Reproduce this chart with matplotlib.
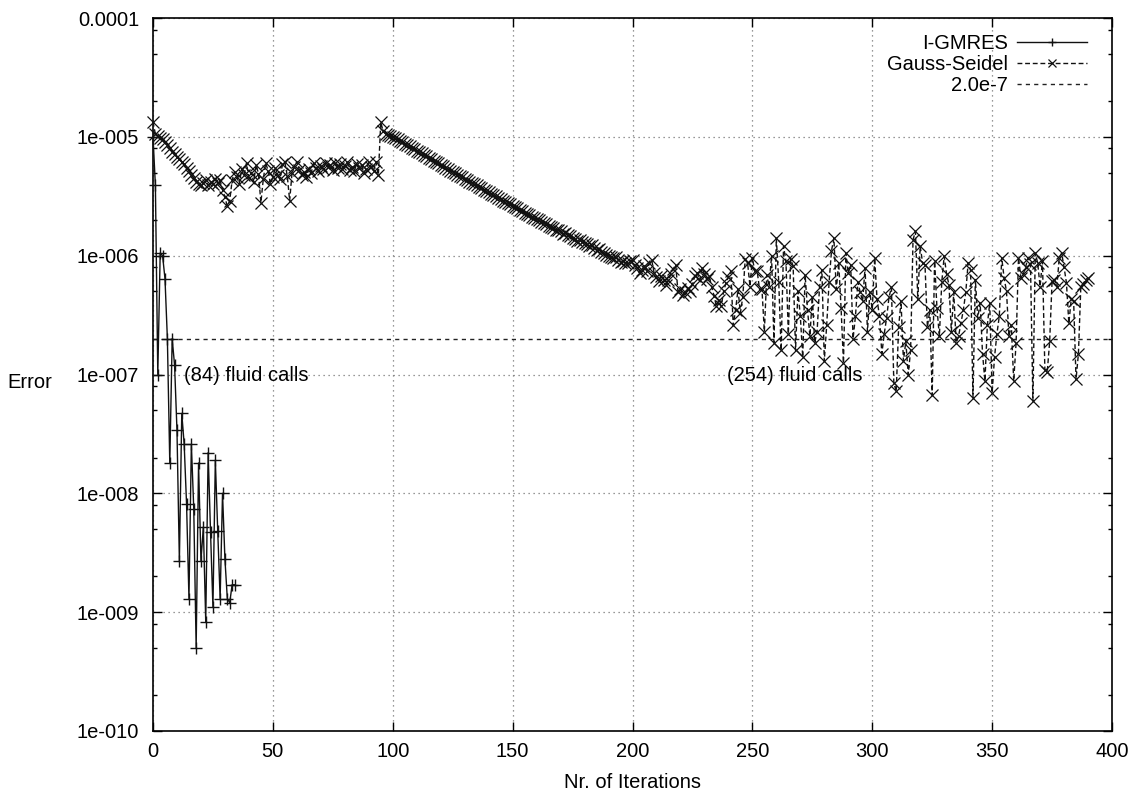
import numpy as np
import matplotlib
matplotlib.use('Agg')
import matplotlib.pyplot as plt
from matplotlib.ticker import LogLocator, NullFormatter, FuncFormatter, MultipleLocator

plt.rcParams['font.family'] = ['Liberation Sans', 'DejaVu Sans']
plt.rcParams['font.size'] = 14.5

# I-GMRES error per iteration
igmres_err = [1.0e-5, 3.9e-6, 1.0e-7, 1.05e-6, 1.0e-6, 6.4e-7, 2.0e-7, 1.8e-8, 2.0e-7, 1.2e-7,
              3.4e-8, 2.7e-9, 4.7e-8, 2.6e-8, 8.1e-9, 1.3e-9, 2.6e-8, 7.4e-9, 5.0e-10, 1.8e-8,
              2.7e-9, 5.2e-9, 8.3e-10, 2.2e-8, 4.7e-9, 1.1e-9, 1.9e-8, 4.8e-9, 1.3e-9, 1.0e-8,
              2.8e-9, 1.3e-9, 1.2e-9, 1.7e-9, 1.7e-9]

# Gauss-Seidel error per iteration, in units of 1e-6
gs_err_e6 = [
    13.4, 10.5, 10.2, 9.8, 9.5, 9.0, 8.5, 8.0, 7.5, 7.2,
    6.8, 6.5, 6.2, 5.9, 5.5, 5.2, 4.8, 4.5, 4.2, 4.0,
    3.9, 4.1, 4.3, 3.9, 4.2, 4.0, 4.4, 4.1, 4.3, 3.6,
    3.1, 2.6, 2.9, 4.3, 5.1, 4.6, 4.0, 5.4, 4.8, 6.0,
    4.5, 5.0, 4.2, 5.8, 4.9, 2.8, 4.4, 6.0, 5.2, 4.0,
    4.6, 5.5, 4.8, 4.4, 5.9, 6.1, 4.7, 2.9, 5.0, 5.6,
    6.2, 5.3, 4.8, 5.1, 4.6, 5.4, 5.0, 6.0, 5.5, 5.2,
    5.7, 5.4, 6.0, 5.6, 5.8, 5.3, 6.0, 5.5, 5.9, 5.4,
    5.7, 6.1, 5.3, 5.6, 5.2, 5.9, 5.5, 5.8, 5.0, 5.4,
    6.1, 5.6, 5.2, 6.2, 4.8, 13.3, 11.1, 10.6, 10.4, 10.2,
    9.9, 9.7, 9.5, 9.2, 9.0, 8.7, 8.5, 8.3, 8.0, 7.9,
    7.6, 7.4, 7.3, 7.0, 6.9, 6.7, 6.5, 6.3, 6.2, 6.0,
    5.8, 5.7, 5.5, 5.4, 5.2, 5.1, 5.0, 4.8, 4.7, 4.6,
    4.4, 4.35, 4.2, 4.1, 4.0, 3.9, 3.8, 3.7, 3.6, 3.5,
    3.45, 3.3, 3.25, 3.15, 3.05, 3.0, 2.9, 2.85, 2.75, 2.7,
    2.6, 2.55, 2.5, 2.42, 2.36, 2.3, 2.25, 2.2, 2.12, 2.08,
    2.02, 1.98, 1.92, 1.88, 1.84, 1.78, 1.75, 1.72, 1.66, 1.64,
    1.6, 1.52, 1.55, 1.48, 1.45, 1.42, 1.38, 1.34, 1.36, 1.30,
    1.27, 1.25, 1.2, 1.22, 1.15, 1.12, 1.14, 1.08, 1.05, 1.02,
    1.0, 0.98, 0.95, 0.97, 0.92, 0.89, 0.91, 0.87, 0.86, 0.90,
    0.92, 0.84, 0.78, 0.71, 0.76, 0.82, 0.74, 0.86, 0.92, 0.72,
    0.66, 0.61, 0.68, 0.63, 0.57, 0.62, 0.70, 0.77, 0.84, 0.49,
    0.52, 0.47, 0.49, 0.53, 0.50, 0.58, 0.67, 0.72, 0.62, 0.79,
    0.70, 0.64, 0.67, 0.55, 0.46, 0.375, 0.42, 0.375, 0.50, 0.59,
    0.66, 0.74, 0.26, 0.35, 0.52, 0.33, 0.45, 0.93, 0.87, 0.55,
    0.96, 0.74, 0.74, 0.52, 0.52, 0.23, 0.69, 0.55, 1.0, 0.185,
    1.4, 0.6, 0.16, 1.2, 0.9, 0.22, 0.93, 0.82, 0.16, 0.5,
    0.31, 0.14, 0.69, 0.35, 0.21, 0.45, 0.185, 0.23, 0.54, 0.76,
    0.13, 0.26, 0.6, 1.1, 1.4, 0.52, 0.87, 0.36, 0.125, 1.05,
    0.71, 0.84, 0.2, 0.31, 0.6, 0.49, 0.415, 0.79, 0.23, 0.49,
    0.35, 0.96, 0.43, 0.31, 0.15, 0.22, 0.30, 0.45, 0.54, 0.085,
    0.072, 0.25, 0.415, 0.13, 0.19, 0.10, 0.16, 1.36, 1.6, 0.43,
    1.2, 0.87, 0.84, 0.25, 0.35, 0.067, 0.9, 0.36, 0.21, 0.6,
    0.99, 0.7, 0.57, 0.23, 0.49, 0.185, 0.21, 0.27, 0.35, 0.49,
    0.87, 0.76, 0.064, 0.63, 0.30, 0.40, 0.15, 0.088, 0.26, 0.40,
    0.07, 0.14, 0.22, 0.31, 0.96, 0.65, 0.50, 0.21, 0.26, 0.088,
    0.185, 0.96, 0.65, 0.70, 0.81, 0.96, 0.85, 0.06, 1.05, 0.87,
    0.55, 0.90, 0.11, 0.105, 0.19, 0.61, 0.63, 0.55, 0.96, 1.05,
    0.80, 0.59, 0.27, 0.43, 0.415, 0.091, 0.15, 0.55, 0.58, 0.63,
    0.65,
]

threshold = 2.0e-7
labels = ['I-GMRES', 'Gauss-Seidel', '2.0e-7']
notes = ['(84) fluid calls', '(254) fluid calls']
note_x = [13.0, 239.5]
note_y = [8.8e-8, 8.8e-8]

igmres_it = np.arange(len(igmres_err))
gs_it = np.arange(len(gs_err_e6))
gs_err = np.array(gs_err_e6) * 1e-6

fig = plt.figure(figsize=(11.41, 7.98), dpi=100)
ax = fig.add_axes([153 / 1141, 1 - 731 / 798, (1112 - 153) / 1141, (731 - 18) / 798])

ax.plot(igmres_it, igmres_err, color='#111111', lw=1.0, marker='+', ms=8.5, mew=1.0,
        label=labels[0], clip_on=False, zorder=3)
ax.plot(gs_it, gs_err, color='#111111', lw=1.0, ls=(0, (3.5, 2)), marker='x', ms=8, mew=0.9,
        label=labels[1], clip_on=False, zorder=3)
ax.axhline(threshold, color='#222222', lw=1.0, ls=(0, (3, 3)), label=labels[2], zorder=2)

ax.set_yscale('log')
ax.set_xlim(0, 400)
ax.set_ylim(1e-10, 1e-4)

ax.xaxis.set_major_locator(MultipleLocator(50))
ax.yaxis.set_major_locator(LogLocator(base=10, numticks=20))
ax.yaxis.set_minor_locator(LogLocator(base=10, subs=[2, 5, 8], numticks=20))
ax.yaxis.set_minor_formatter(NullFormatter())


def fmt(v, pos):
    e = int(round(np.log10(v)))
    if e == -4:
        return '0.0001'
    return '1e-%03d' % (-e)


ax.yaxis.set_major_formatter(FuncFormatter(fmt))

ax.tick_params(which='both', direction='in', top=True, right=True, width=1.0)
ax.tick_params(which='major', length=6.5)
ax.tick_params(which='minor', length=3)
ax.tick_params(axis='x', pad=8)
ax.tick_params(axis='y', pad=10)
for s in ax.spines.values():
    s.set_linewidth(1.2)

ax.grid(True, which='major', color='#777777', lw=0.9, ls=(0, (1, 3)))

for t, x, y in zip(notes, note_x, note_y):
    ax.text(x, y, t, ha='left', va='baseline', zorder=4)

fig.text(30 / 1141, 1 - 383 / 798, 'Error', ha='center', va='center')
fig.text(632 / 1141, 1 - 782 / 798, 'Nr. of Iterations', ha='center', va='center')

ax.legend(loc='upper right', bbox_to_anchor=(0.974, 0.978), frameon=False,
          markerfirst=False, numpoints=1, handlelength=3.5, handletextpad=0.45,
          labelspacing=0.11, borderpad=0, borderaxespad=0, markerscale=0.75)

fig.savefig('out.png', dpi=100)
